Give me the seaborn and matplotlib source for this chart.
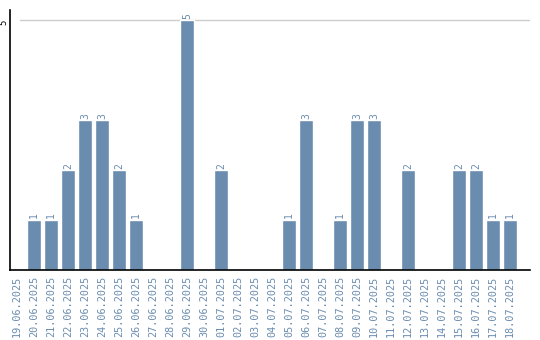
import matplotlib
matplotlib.use("Agg")
import matplotlib.pyplot as plt
import seaborn as sns
import pandas as pd

dates = ["19.06.2025", "20.06.2025", "21.06.2025", "22.06.2025", "23.06.2025",
         "24.06.2025", "25.06.2025", "26.06.2025", "27.06.2025", "28.06.2025",
         "29.06.2025", "30.06.2025", "01.07.2025", "02.07.2025", "03.07.2025",
         "04.07.2025", "05.07.2025", "06.07.2025", "07.07.2025", "08.07.2025",
         "09.07.2025", "10.07.2025", "11.07.2025", "12.07.2025", "13.07.2025",
         "14.07.2025", "15.07.2025", "16.07.2025", "17.07.2025", "18.07.2025"]
counts = [0, 1, 1, 2, 3, 3, 2, 1, 0, 0,
          5, 0, 2, 0, 0, 0, 1, 3, 0, 1,
          3, 3, 0, 2, 0, 0, 2, 2, 1, 1]
yticks = [5]

df = pd.DataFrame({"date": dates, "count": counts})
color = "#6a8caf"
mono = "DejaVu Sans Mono"

sns.set_style("white")
fig = plt.figure(figsize=(5.4, 3.4), dpi=100)
ax = fig.add_axes([10/540, 70/340, 520/540, 260/340])

sns.barplot(data=df, x="date", y="count", color=color, saturation=1,
            width=0.82, ax=ax, order=dates)

for i, v in enumerate(counts):
    if v > 0:
        ax.text(i, v + 0.03, str(v), rotation=90, ha="center", va="bottom",
                color=color, fontsize=7, family=mono)

ax.axhline(5, xmin=10/520, xmax=1, color="#cccccc", lw=1, zorder=0)
ax.set_xlim(-0.41, 30.18)
ax.set_ylim(0, 5.2)
ax.set_yticks(yticks)
ax.set_yticklabels([str(t) for t in yticks], rotation=90, va="top",
                   fontsize=6.5, color="black", family=mono)
ax.tick_params(axis="y", length=0, pad=1)
ax.tick_params(axis="x", length=0, pad=4)
ax.set_xticks(range(len(dates)))
ax.set_xticklabels(dates, rotation=90, fontsize=7.3, color=color, family=mono)
ax.set_xlabel("")
ax.set_ylabel("")
for s in ["top", "right"]:
    ax.spines[s].set_visible(False)
for s in ["left", "bottom"]:
    ax.spines[s].set_color("black")
    ax.spines[s].set_linewidth(1.2)

fig.savefig("out.png", dpi=100)
